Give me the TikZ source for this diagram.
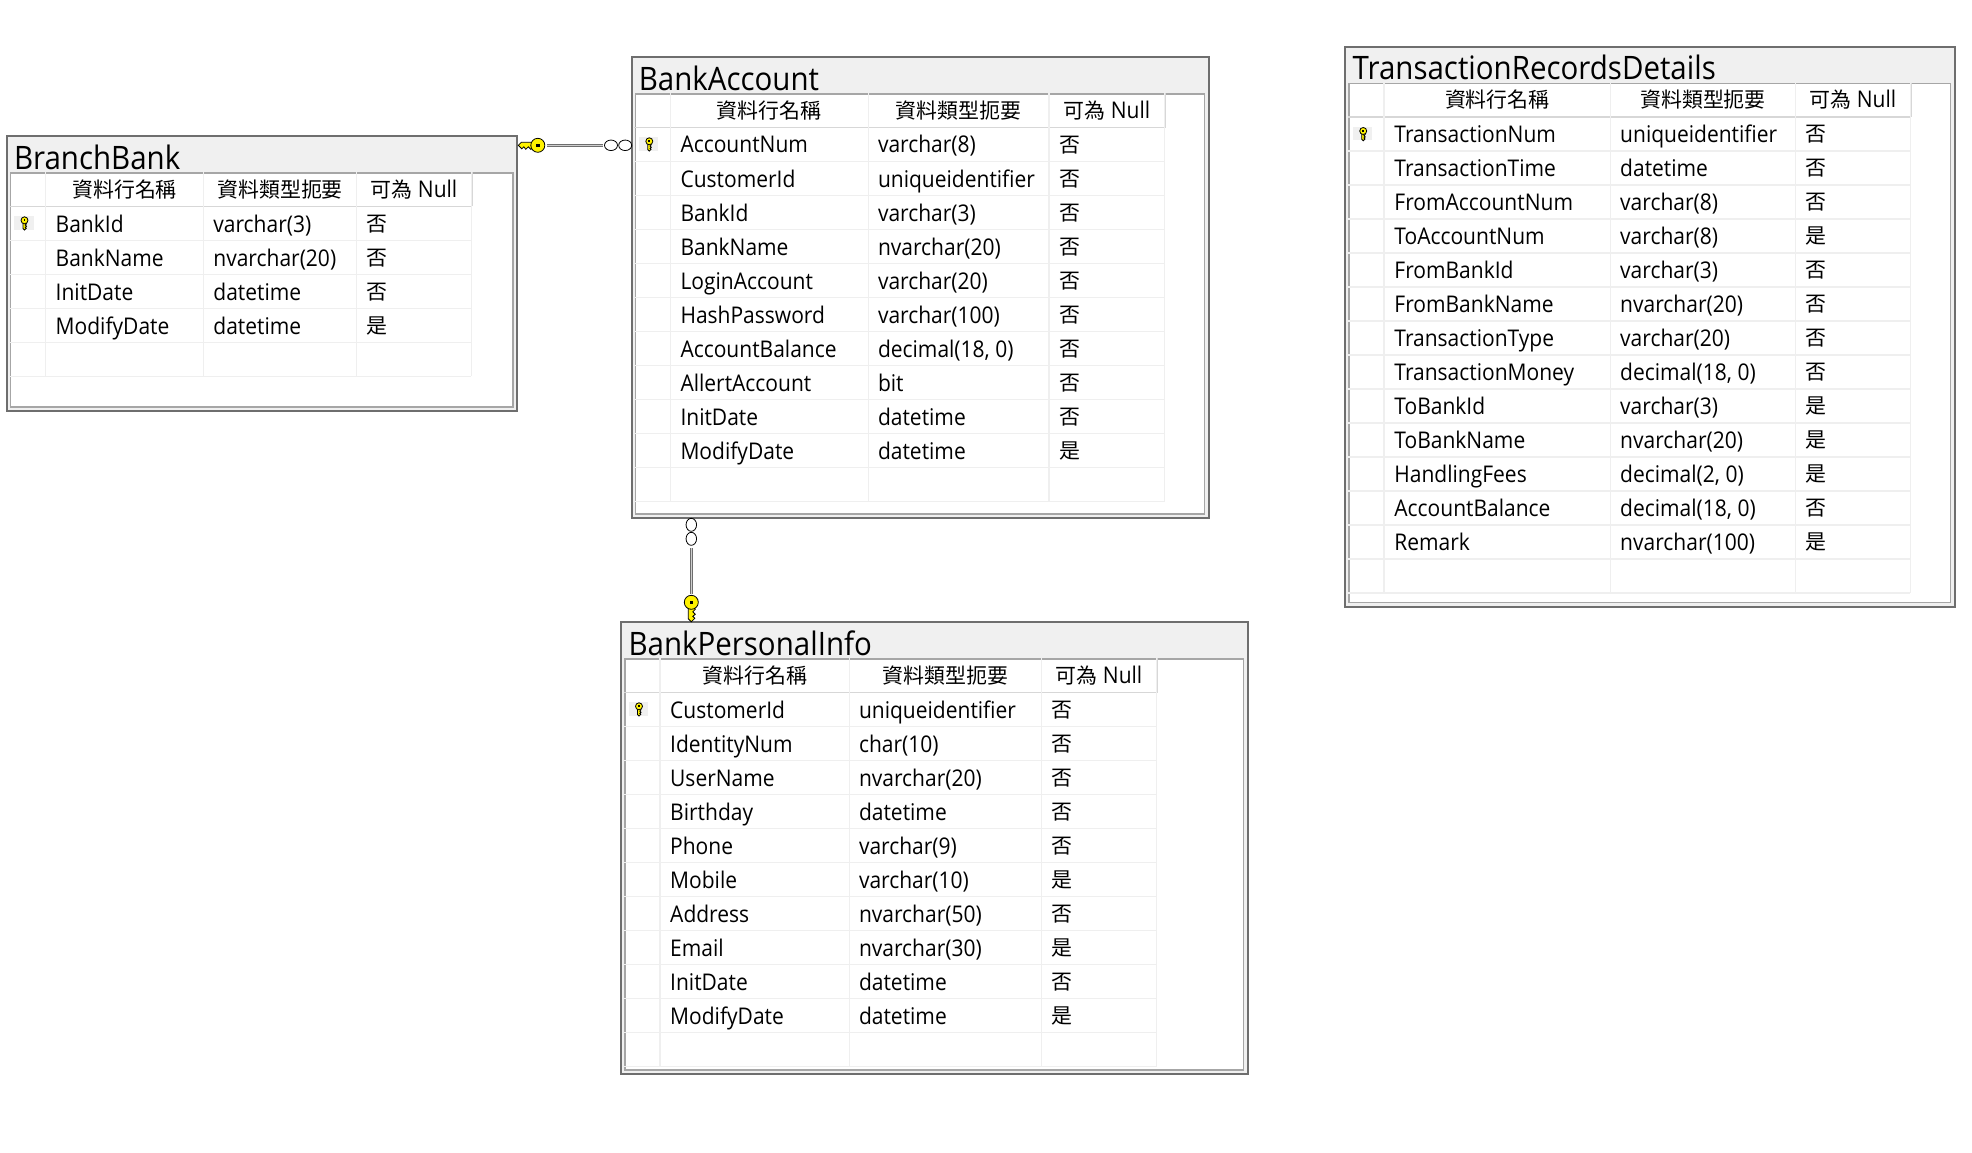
\documentclass[tikz,border=0pt]{standalone}
\usepackage{fontspec}
\setmainfont[FakeStretch=0.913]{Open Sans}
\newfontfamily\cjkfont[Scale=0.91]{Noto Sans CJK TC}
\usetikzlibrary{shapes.geometric, positioning}

\definecolor{framegray}{HTML}{6E6E6E}
\definecolor{innergray}{HTML}{A6A6A6}
\definecolor{titlegray}{HTML}{F0F0F0}
\definecolor{gridgray}{HTML}{EFEFEF}
\definecolor{keyyellow}{HTML}{FFF200}

\newcommand{\cellfont}{\fontsize{23}{24}\selectfont}
\newcommand{\titlefont}{\fontsize{32.3}{33}\selectfont}

% name, left, bottom of header row, right, bottom, columns 2-4, rows
\newcommand{\ertable}[9]{
    \node [tablebox, minimum width={(#4-#2)*1pt}, minimum height={(#5-#3+71)*1pt}] (#1) at (#2-.8,#3-71) {};
    \node [gridbox, minimum width={(#4-#2-8)*1pt}, minimum height={(#5-#3+30)*1pt}] (#1-grid) at (#2+3.2,#3-34) {};
    \node [tabletitle] (#1-title) at (#2+7.3,#3-37) {#1};
    % --- Header ---
    \node [headcell, font=\cellfont\cjkfont] (#1-head-a) at ({(#2+39+#6)/2},#3-9) {資料行名稱};
    \node [headcell, font=\cellfont\cjkfont] (#1-head-b) at ({(#6+#7)/2},#3-9) {資料類型扼要};
    \node [headcell] (#1-head-c) at ({(#7+#8)/2},#3-9) {{\cjkfont 可為} Null};
    \draw [headline] (#2+3,#3) -- (#8+1,#3);
    \draw [headline] (#8+1,#3-34) -- (#8+1,#3);
    % --- Rows ---
    \foreach \cname/\ctype/\cnull [count=\i] in {#9} {
        \node [cell] (#1-name-\i) at (#2+49,#3+34*\i-8.3) {\cname};
        \node [cell] (#1-type-\i) at (#6+9.5,#3+34*\i-8.3) {\ctype};
        \node [cell, font=\cellfont\cjkfont] (#1-null-\i) at (#7+10,#3+34*\i-9.3) {\cnull};
        \draw [gridline] (#2+3,#3+34*\i) -- (#8,#3+34*\i);
        \xdef\nrows{\i}
    }
    \fill [titlegray] (#2+7.5,#3+10) rectangle (#2+27,#3+23.5);
    \pic [scale=.5, rotate=90] at (#2+18,#3+14) {fkey};
    % --- Empty last row and column lines ---
    \draw [gridline] (#2+3,#3+34+34*\nrows) -- (#8,#3+34+34*\nrows);
    \foreach \c in {#2+39,#6,#7,#8} {
        \draw [gridline] (\c,#3-34) -- (\c,#3+34+34*\nrows);
    }
}

\begin{document}
\begin{tikzpicture}[
    x=1pt, y=-1pt,
    tablebox/.style={rectangle, draw=framegray, line width=2pt, fill=titlegray, anchor=north west, inner sep=0pt},
    gridbox/.style={rectangle, draw=innergray, line width=1.5pt, fill=white, anchor=north west, inner sep=0pt},
    tabletitle/.style={anchor=base west, inner sep=0pt, font=\titlefont},
    headcell/.style={anchor=base, inner sep=0pt, font=\cellfont},
    cell/.style={anchor=base west, inner sep=0pt, font=\cellfont},
    gridline/.style={draw=gridgray, line width=1.5pt},
    headline/.style={draw=gridgray!90!black, line width=1.5pt},
    relline/.style={draw=framegray, double=titlegray!70!gray, line width=1pt, double distance=1.2pt},
    oend/.style={ellipse, draw=black, line width=.8pt, fill=white, inner sep=0pt},
    fkey/.pic={
        \draw [black, line width=.8pt, fill=keyyellow] (-5,-3) -- (-16.5,-3) -- (-19.5,0) -- (-16,3.5) -- (-14,1.5) -- (-12,4) -- (-9.5,1.5) -- (-7,4) -- (-5,3) -- cycle;
        \draw [black, line width=.8pt, fill=keyyellow] (0,0) circle (7);
        \fill [black] (-1.7,-1.7) rectangle (1.7,1.7);
    }
]
    \useasboundingbox (0,0) rectangle (1972,1153);

    % --- Tables ---
    \ertable{BranchBank}{6.5}{206.3}{517}{410}{203.7}{356.5}{471.4}{
        BankId/varchar(3)/否, BankName/nvarchar(20)/否, InitDate/datetime/否, ModifyDate/datetime/是}
    \ertable{BankAccount}{631.3}{127.3}{1208.6}{517.3}{868.3}{1049}{1164.6}{
        AccountNum/varchar(8)/否, CustomerId/uniqueidentifier/否, BankId/varchar(3)/否,
        BankName/nvarchar(20)/否, LoginAccount/varchar(20)/否, HashPassword/varchar(100)/否,
        AccountBalance/{decimal(18, 0)}/否, AllertAccount/bit/否, InitDate/datetime/否, ModifyDate/datetime/是}
    \ertable{BankPersonalInfo}{621}{692.3}{1247.6}{1073}{849.3}{1041.4}{1156.5}{
        CustomerId/uniqueidentifier/否, IdentityNum/char(10)/否, UserName/nvarchar(20)/否,
        Birthday/datetime/否, Phone/varchar(9)/否, Mobile/varchar(10)/是, Address/nvarchar(50)/否,
        Email/nvarchar(30)/是, InitDate/datetime/否, ModifyDate/datetime/是}
    \ertable{TransactionRecordsDetails}{1345.2}{117}{1954.7}{605.7}{1610.5}{1795.5}{1910.3}{
        TransactionNum/uniqueidentifier/否, TransactionTime/datetime/否, FromAccountNum/varchar(8)/否,
        ToAccountNum/varchar(8)/是, FromBankId/varchar(3)/否, FromBankName/nvarchar(20)/否,
        TransactionType/varchar(20)/否, TransactionMoney/{decimal(18, 0)}/否, ToBankId/varchar(3)/是,
        ToBankName/nvarchar(20)/是, HandlingFees/{decimal(2, 0)}/是, AccountBalance/{decimal(18, 0)}/否,
        Remark/nvarchar(100)/是}

    % --- BranchBank to BankAccount ---
    \coordinate (branchkey) at (546.7,145.3);
    \pic at (537.8,145.3) {fkey};
    \node [oend, minimum width=13pt, minimum height=10.5pt] (accountend-b) at (625.2,145.3) {};
    \node [oend, minimum width=13pt, minimum height=10.5pt, left=0.4pt of accountend-b] (accountend-a) {};
    \draw [relline, shorten >=1.3pt] (branchkey) -- (accountend-a);

    % --- BankPersonalInfo to BankAccount ---
    \coordinate (personalkey) at (691.3,594);
    \pic [rotate=90] at (691.3,602.3) {fkey};
    \node [oend, minimum width=10.5pt, minimum height=13pt] (accountend-c) at (691.3,524.8) {};
    \node [oend, minimum width=10.5pt, minimum height=13pt, below=0.2pt of accountend-c] (accountend-d) {};
    \draw [relline, shorten >=2pt] (personalkey) -- (accountend-d);
\end{tikzpicture}
\end{document}
